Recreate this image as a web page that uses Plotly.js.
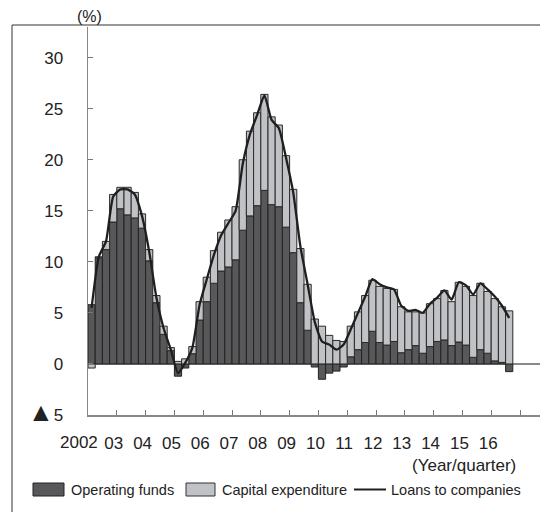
<!DOCTYPE html>
<html>
<head>
<meta charset="utf-8">
<script src="https://cdn.plot.ly/plotly-3.0.1.min.js"></script>
<style>html,body{margin:0;padding:0;background:#fff;}#chart{width:540px;height:512px;}</style>
</head>
<body>
<div id="chart"></div>
<script>
// Year labels (each year has 4 quarters, 2002Q1 .. 2016Q3)
const yearLabels = ['2002','03','04','05','06','07','08','09','10','11','12','13','14','15','16'];
const quarters = [
 '2002Q1','2002Q2','2002Q3','2002Q4','2003Q1','2003Q2','2003Q3','2003Q4',
 '2004Q1','2004Q2','2004Q3','2004Q4','2005Q1','2005Q2','2005Q3','2005Q4',
 '2006Q1','2006Q2','2006Q3','2006Q4','2007Q1','2007Q2','2007Q3','2007Q4',
 '2008Q1','2008Q2','2008Q3','2008Q4','2009Q1','2009Q2','2009Q3','2009Q4',
 '2010Q1','2010Q2','2010Q3','2010Q4','2011Q1','2011Q2','2011Q3','2011Q4',
 '2012Q1','2012Q2','2012Q3','2012Q4','2013Q1','2013Q2','2013Q3','2013Q4',
 '2014Q1','2014Q2','2014Q3','2014Q4','2015Q1','2015Q2','2015Q3','2015Q4',
 '2016Q1','2016Q2','2016Q3'
];
// Operating funds contribution (%)
const operatingFunds = [
 5.8,10.4,11.2,13.9,15.2,14.6,14.3,13.3,10.1,6.0,
 2.9,1.3,-1.2,-0.4,1.0,4.3,6.1,7.9,9.1,9.5,
 10.2,13.1,14.5,15.5,17.0,15.6,15.4,13.4,10.9,6.0,
 3.3,-0.3,-1.5,-0.9,-0.7,-0.3,0.7,1.4,2.1,3.2,
 2.1,1.85,2.2,1.1,1.4,1.8,1.05,1.7,2.2,2.35,
 1.8,2.15,1.85,0.65,1.4,1.05,0.3,0.15,-0.75
];
// Capital expenditure contribution (%)
const capitalExpenditure = [
 -0.4,0.1,0.8,2.7,2.1,2.7,2.5,1.4,1.1,0.7,
 0.8,0.3,0.25,0.5,0.7,1.8,2.4,3.2,3.8,4.6,
 5.2,6.9,8.3,9.1,9.4,8.6,8.0,7.0,6.2,5.3,
 4.5,4.4,3.7,2.8,2.3,2.2,3.0,3.7,4.6,5.0,
 5.5,5.55,5.1,4.5,3.7,3.3,3.95,4.2,4.2,4.85,
 4.3,5.85,5.75,6.05,6.5,6.05,6.1,5.45,5.2
];
// Loans to companies, y/y (%)
const loansToCompanies = [
 5.5,10.5,12.0,16.4,17.1,17.1,16.6,14.5,11.0,6.5,
 3.5,1.4,-0.9,0.1,1.6,5.8,8.3,10.7,12.6,13.8,
 15.0,19.6,22.5,24.4,26.3,23.9,23.1,20.2,16.8,11.5,
 7.8,4.1,2.2,1.9,1.4,1.9,3.4,5.0,6.6,8.3,
 7.8,7.5,7.3,5.7,5.2,5.3,5.0,5.9,6.5,7.2,
 6.3,8.0,7.7,6.8,7.9,7.3,6.6,5.7,4.5
];
const yTickVals = [-5,0,5,10,15,20,25,30];
const yTickText = ['<span style="font-size:26px">\u25B2</span>5','0','5','10','15','20','25','30'];

const xIdx = quarters.map((q, i) => i);
const xTickVals = yearLabels.map((y, k) => 4 * k - 0.5).concat([4 * yearLabels.length - 0.5]);
// the first year label is drawn as an annotation slightly left of the axis start, as in the source
const xTickText = yearLabels.map((y, k) => k === 0 ? '' : y).concat(['']);

const FONT = 'Liberation Sans, Arial, sans-serif';

const traces = [
  {
    type: 'bar', x: xIdx, y: operatingFunds, name: 'Operating funds',
    marker: {color: '#58585a', line: {color: '#222', width: 1}},
    hoverinfo: 'y'
  },
  {
    type: 'bar', x: xIdx, y: capitalExpenditure, name: 'Capital expenditure',
    marker: {color: '#c1c2c6', line: {color: '#2a2a2a', width: 1}},
    hoverinfo: 'y'
  },
  {
    type: 'scatter', mode: 'lines', x: xIdx, y: loansToCompanies, name: 'Loans to companies',
    line: {color: '#1f1f1f', width: 2.3, shape: 'spline', smoothing: 0.5},
    hoverinfo: 'y'
  }
];

// helpers to convert pixel positions to paper coordinates for decorations
const M = {l: 88, r: 0, t: 27, b: 97};
const W = 540, H = 512;
const pw = W - M.l - M.r, ph = H - M.t - M.b;
const px = v => (v - M.l) / pw;
const py = v => (H - M.b - v) / ph;

const legendY = 489.5;
const shapes = [
  // outer frame (left and top edges)
  {type: 'line', xref: 'paper', yref: 'paper', x0: px(12), x1: px(12), y0: py(25), y1: py(514), line: {color: '#333', width: 1}},
  {type: 'line', xref: 'paper', yref: 'paper', x0: px(12), x1: px(542), y0: py(25), y1: py(25), line: {color: '#333', width: 1}},
  // legend symbols
  {type: 'rect', xref: 'paper', yref: 'paper', x0: px(33), x1: px(64), y0: py(legendY - 6.5), y1: py(legendY + 6.5), fillcolor: '#58585a', line: {color: '#222', width: 1}},
  {type: 'rect', xref: 'paper', yref: 'paper', x0: px(186), x1: px(215), y0: py(legendY - 6.5), y1: py(legendY + 6.5), fillcolor: '#c1c2c6', line: {color: '#333', width: 1}},
  {type: 'line', xref: 'paper', yref: 'paper', x0: px(354), x1: px(386), y0: py(legendY), y1: py(legendY), line: {color: '#1f1f1f', width: 2}}
];

const annFont = {family: FONT, size: 14.5, color: '#222'};
const annotations = [
  {xref: 'x', yref: 'paper', x: xTickVals[0], xshift: -9, y: py(442), text: yearLabels[0], showarrow: false, xanchor: 'center', yanchor: 'middle', font: {family: FONT, size: 17, color: '#222'}},
  {xref: 'paper', yref: 'paper', x: px(89), y: py(16), text: '(%)', showarrow: false, xanchor: 'center', yanchor: 'middle', font: {family: FONT, size: 16, color: '#222'}},
  {xref: 'paper', yref: 'paper', x: px(518), y: py(465), text: '(Year/quarter)', showarrow: false, xanchor: 'right', yanchor: 'middle', font: {family: FONT, size: 17, color: '#222'}},
  {xref: 'paper', yref: 'paper', x: px(69), y: py(legendY), text: 'Operating funds', showarrow: false, xanchor: 'left', yanchor: 'middle', font: annFont},
  {xref: 'paper', yref: 'paper', x: px(220), y: py(legendY), text: 'Capital expenditure', showarrow: false, xanchor: 'left', yanchor: 'middle', font: annFont},
  {xref: 'paper', yref: 'paper', x: px(389), y: py(legendY), text: 'Loans to companies', showarrow: false, xanchor: 'left', yanchor: 'middle', font: annFont}
];

const layout = {
  width: W, height: H,
  margin: M,
  paper_bgcolor: '#fff', plot_bgcolor: '#fff',
  barmode: 'relative', bargap: 0,
  showlegend: false,
  font: {family: FONT, color: '#222'},
  xaxis: {
    range: [-0.5, -0.5 + pw / 7.2],
    tickmode: 'array', tickvals: xTickVals, ticktext: xTickText,
    ticks: 'inside', ticklen: 5, tickcolor: '#777', tickwidth: 1,
    showline: true, linecolor: '#888', linewidth: 1.5,
    showgrid: false, zeroline: false,
    tickangle: 0,
    tickfont: {family: FONT, size: 17, color: '#222'},
    ticklabelstandoff: 12, ticklabelshift: -3
  },
  yaxis: {
    range: [-5, 33],
    tickmode: 'array', tickvals: yTickVals, ticktext: yTickText,
    ticks: 'inside', ticklen: 5, tickcolor: '#777', tickwidth: 1,
    showline: true, linecolor: '#888', linewidth: 1.5,
    showgrid: false,
    zeroline: true, zerolinecolor: '#8a8a8a', zerolinewidth: 1.5,
    tickfont: {family: FONT, size: 17, color: '#222'},
    ticklabelstandoff: 20
  },
  shapes: shapes,
  annotations: annotations
};

Plotly.newPlot('chart', traces, layout, {displayModeBar: false, staticPlot: true});
</script>
</body>
</html>
